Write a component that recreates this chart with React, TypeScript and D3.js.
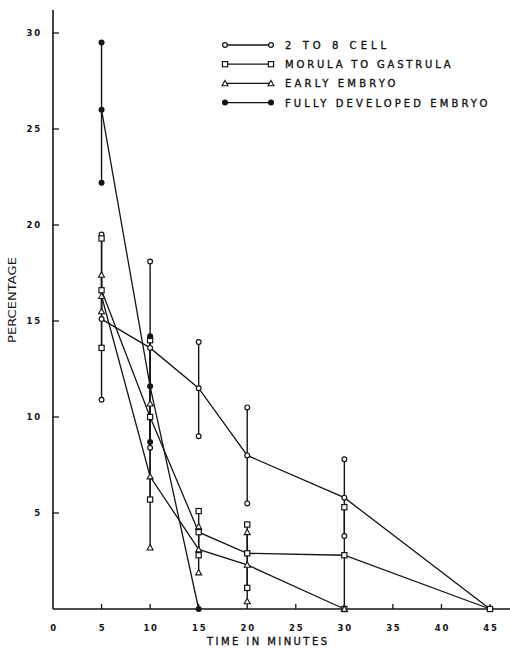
import React from "react";
import * as d3 from "d3";

const times = [5, 10, 15, 20, 30, 45];

const cellMean = [15.1, 13.6, 11.5, 8.0, 5.8, 0];
const cellLow = [10.9, 8.4, 9.0, 5.5, 3.8, null];
const cellHigh = [19.5, 18.1, 13.9, 10.5, 7.8, null];

const morulaMean = [16.6, 10.0, 4.0, 2.9, 2.8, 0];
const morulaLow = [13.6, 5.7, 2.8, 1.1, 0, null];
const morulaHigh = [19.3, 14.0, 5.1, 4.4, 5.3, null];

const earlyMean = [16.3, 6.9, 3.1, 2.3, 0];
const earlyLow = [15.5, 3.2, 1.9, 0.4, null];
const earlyHigh = [17.4, 10.7, 4.3, 4.0, null];

const fullyMean = [26.0, 11.6, 0];
const fullyLow = [22.2, 8.7, null];
const fullyHigh = [29.5, 14.2, null];

const seriesNames = ["2 TO 8 CELL", "MORULA TO GASTRULA", "EARLY EMBRYO", "FULLY DEVELOPED EMBRYO"];
const markerKinds = ["circle", "square", "triangle", "dot"];

const xTicks = [0, 5, 10, 15, 20, 25, 30, 35, 40, 45];
const yTicks = [5, 10, 15, 20, 25, 30];

const W = 510, H = 650;
const x = d3.scaleLinear().domain([0, 45]).range([53, 490]);
const y = d3.scaleLinear().domain([0, 30]).range([609, 33]);

const series = [
  { name: seriesNames[0], kind: markerKinds[0], mean: cellMean, low: cellLow, high: cellHigh },
  { name: seriesNames[1], kind: markerKinds[1], mean: morulaMean, low: morulaLow, high: morulaHigh },
  { name: seriesNames[2], kind: markerKinds[2], mean: earlyMean, low: earlyLow, high: earlyHigh },
  { name: seriesNames[3], kind: markerKinds[3], mean: fullyMean, low: fullyLow, high: fullyHigh },
];

const INK = "#141414";

function Marker({ kind, cx, cy }: { kind: string; cx: number; cy: number }) {
  if (kind === "circle") return <circle cx={cx} cy={cy} r={2.4} fill="#fff" stroke={INK} strokeWidth={1.2} />;
  if (kind === "square") return <rect x={cx - 2.6} y={cy - 2.6} width={5.2} height={5.2} fill="#fff" stroke={INK} strokeWidth={1.2} />;
  if (kind === "triangle") {
    const s = 3;
    return <path d={`M${cx},${cy - s}L${cx + s},${cy + s * 0.8}L${cx - s},${cy + s * 0.8}Z`} fill="#fff" stroke={INK} strokeWidth={1.1} />;
  }
  return <circle cx={cx} cy={cy} r={3} fill={INK} />;
}

export default function App() {
  const line = d3.line<[number, number]>().x((d) => x(d[0])).y((d) => y(d[1]));
  const font = "'DejaVu Sans', Verdana, sans-serif";
  return (
    <svg width={W} height={H} style={{ display: "block", position: "absolute", left: 0, top: 0, background: "#fff" }}>
      <rect width={W} height={H} fill="#fff" />
      {/* axes */}
      <line x1={x(0)} y1={y(0)} x2={510} y2={y(0)} stroke={INK} strokeWidth={1.6} />
      <line x1={x(0)} y1={y(0)} x2={x(0)} y2={10} stroke={INK} strokeWidth={1.6} />
      {yTicks.map((t) => (
        <g key={"yt" + t}>
          <line x1={x(0)} x2={x(0) + 6} y1={y(t)} y2={y(t)} stroke={INK} strokeWidth={1.3} />
          <text x={42} y={y(t) + 3.2} textAnchor="end" fontFamily={font} fontWeight="bold" fontSize={8.5} letterSpacing={1.8} fill={INK}>{t}</text>
        </g>
      ))}
      {xTicks.map((t) => (
        <g key={"xt" + t}>
          {t > 0 && <line x1={x(t)} x2={x(t)} y1={y(0)} y2={y(0) - 5} stroke={INK} strokeWidth={1.3} />}
          <text x={x(t) + 1} y={631} textAnchor="middle" fontFamily={font} fontWeight="bold" fontSize={8.5} letterSpacing={1.8} fill={INK}>{t}</text>
        </g>
      ))}
      <text x={267} y={645} textAnchor="middle" fontFamily={font} fontSize={10} textLength={120} lengthAdjust="spacing" fill={INK} stroke={INK} strokeWidth={0.35}>TIME IN MINUTES</text>
      <text transform={`translate(16,300) rotate(-90)`} textAnchor="middle" fontFamily={font} fontSize={10} textLength={86} lengthAdjust="spacingAndGlyphs" fill={INK}>PERCENTAGE</text>

      {/* error bars */}
      {series.map((s) =>
        s.mean.map((m, i) =>
          s.low[i] != null && s.high[i] != null ? (
            <line key={s.name + "e" + i} x1={x(times[i])} x2={x(times[i])} y1={y(s.low[i] as number)} y2={y(s.high[i] as number)} stroke={INK} strokeWidth={1.4} />
          ) : null
        )
      )}
      {/* lines */}
      {series.map((s) => (
        <path key={s.name + "l"} d={line(s.mean.map((m, i) => [times[i], m] as [number, number])) || ""} fill="none" stroke={INK} strokeWidth={1.3} />
      ))}
      {/* markers */}
      {series.map((s) =>
        s.mean.map((m, i) => (
          <g key={s.name + "m" + i}>
            <Marker kind={s.kind} cx={x(times[i])} cy={y(m)} />
            {s.low[i] != null && <Marker kind={s.kind} cx={x(times[i])} cy={y(s.low[i] as number)} />}
            {s.high[i] != null && <Marker kind={s.kind} cx={x(times[i])} cy={y(s.high[i] as number)} />}
          </g>
        ))
      )}
      {/* legend */}
      {series.map((s, i) => {
        const ly = 45 + i * 19.2;
        return (
          <g key={s.name + "lg"}>
            <line x1={223} x2={272} y1={ly} y2={ly} stroke={INK} strokeWidth={1.3} />
            <Marker kind={s.kind} cx={225} cy={ly} />
            <Marker kind={s.kind} cx={271} cy={ly} />
            <text x={285} y={ly + 4} fontFamily={font} fontSize={10} textLength={s.name.length * 9.2} lengthAdjust="spacing" fill={INK} stroke={INK} strokeWidth={0.35}>{s.name}</text>
          </g>
        );
      })}
    </svg>
  );
}
